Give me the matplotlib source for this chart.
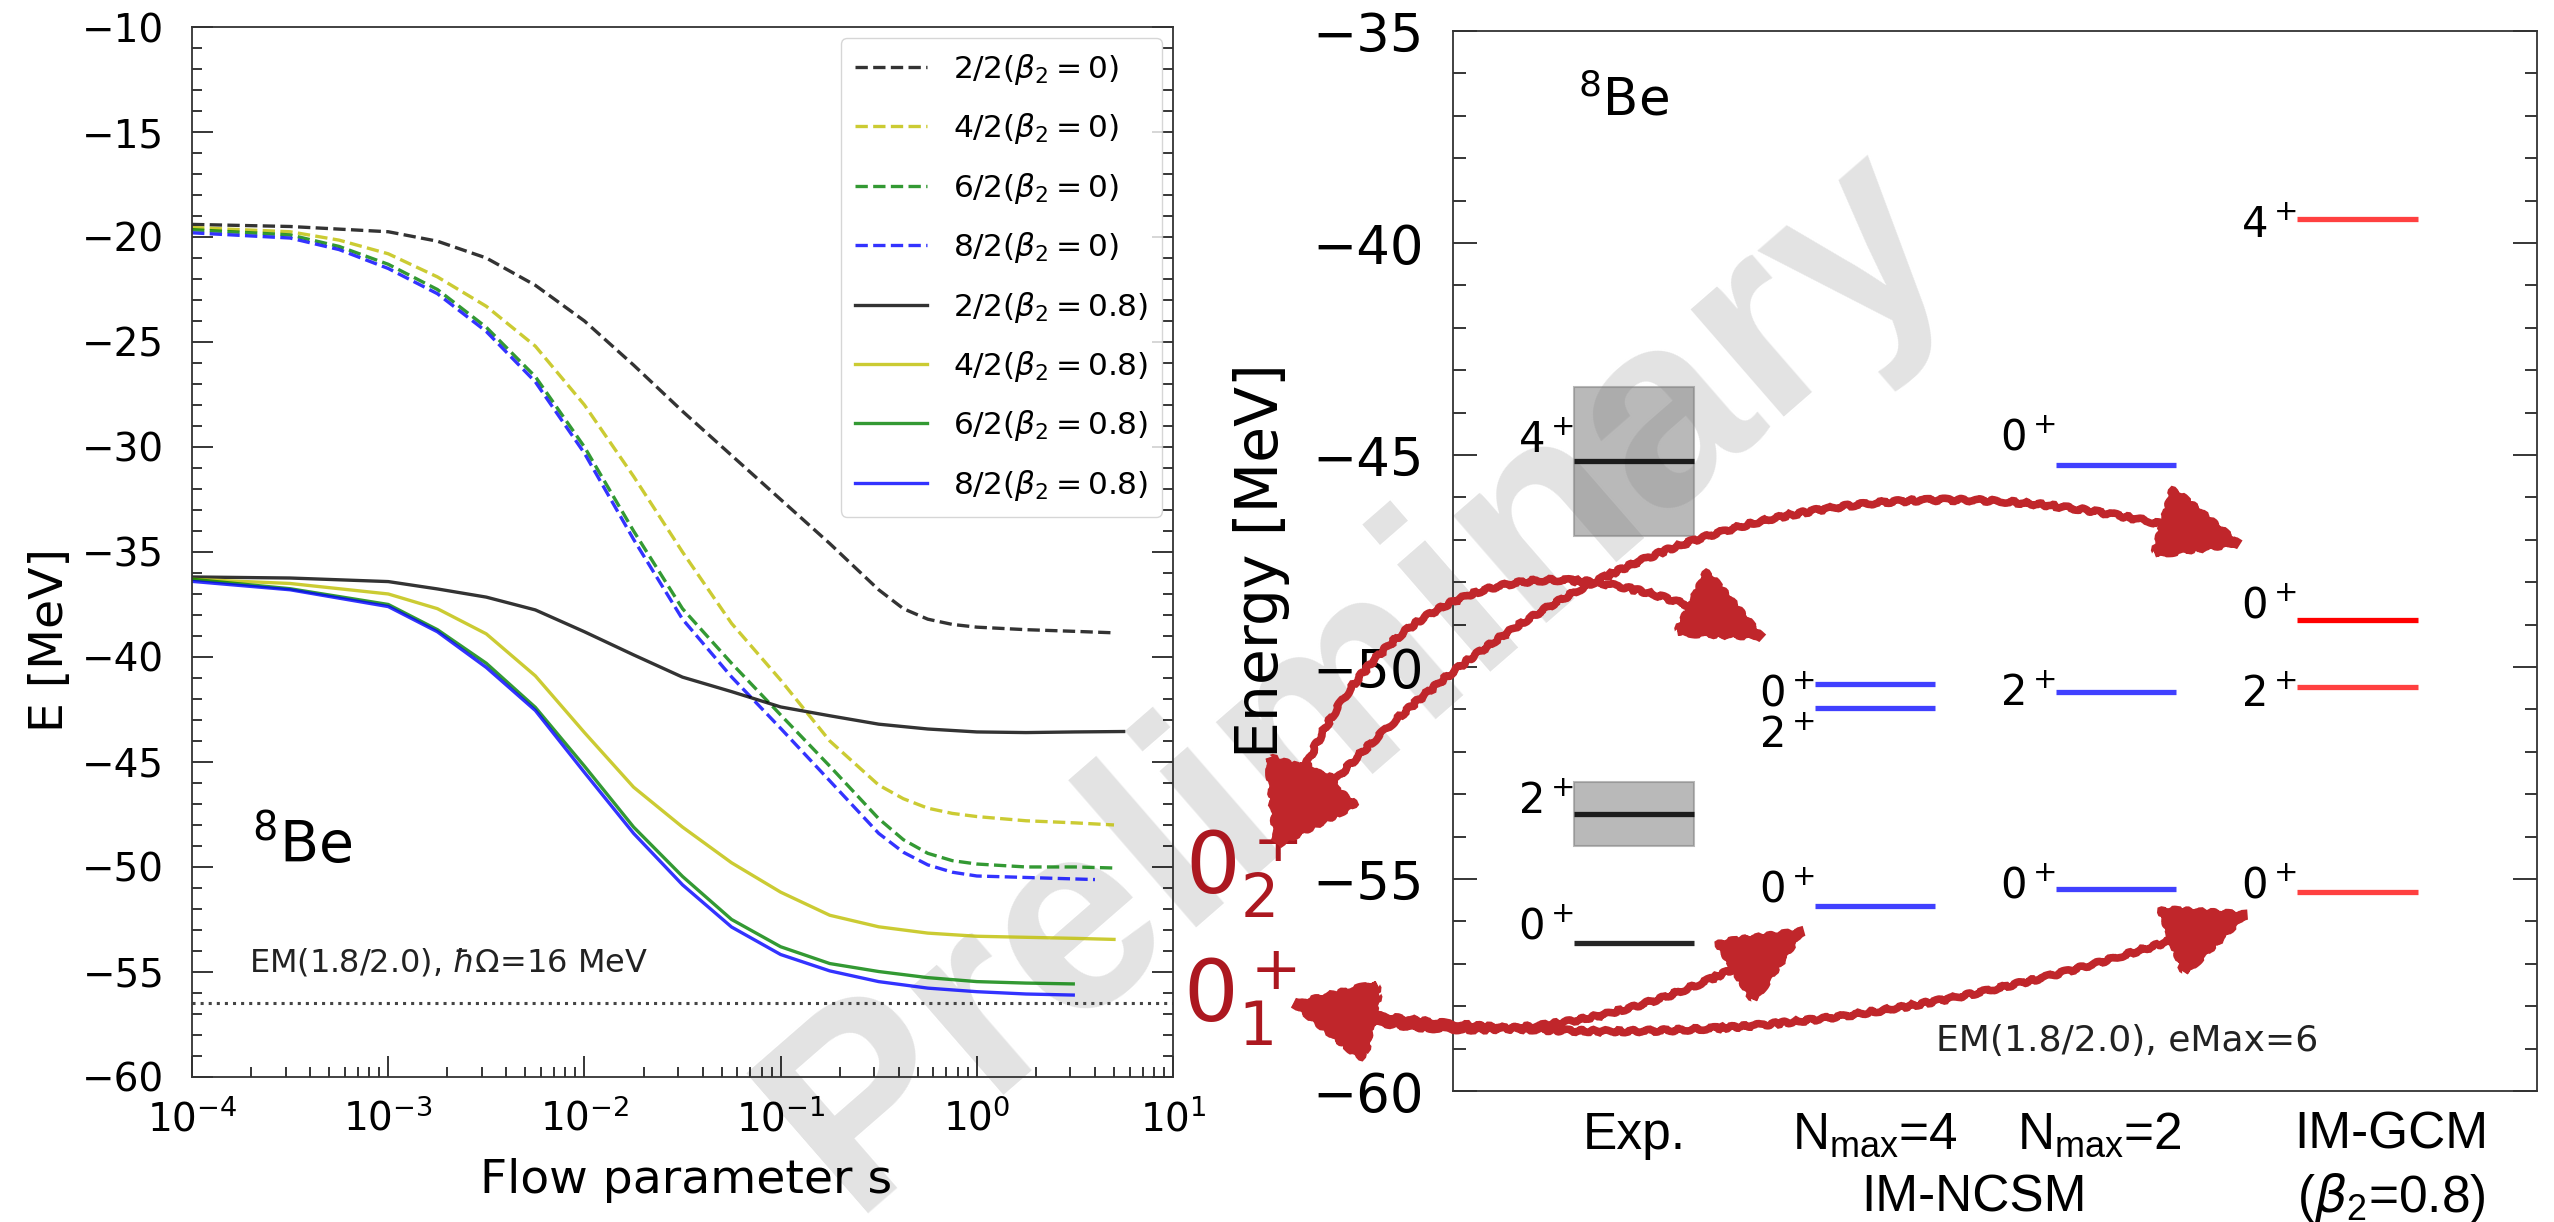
import matplotlib
# no display here
matplotlib.use('Agg')

from matplotlib import pyplot as plt
from matplotlib.patches import Rectangle, FancyArrowPatch, ArrowStyle
from matplotlib.ticker import MultipleLocator, LogLocator, NullFormatter

# ---- left panel: IMSRG flow of the 8Be ground-state energy ----
s_grid = [1e-4, 3.16e-4, 1e-3, 1.78e-3, 3.16e-3, 5.62e-3, 1e-2, 1.78e-2, 3.16e-2,
          5.62e-2, 0.1, 0.178, 0.316, 0.562, 1.0, 1.78, 3.16, 5.0]
s_end31 = s_grid[:16] + [3.1]
s_end56 = s_grid[:17] + [5.6]
s_22_sph = [1e-4, 3.16e-4, 1e-3, 1.78e-3, 3.16e-3, 5.62e-3, 1e-2, 1.78e-2, 3.16e-2, 5.62e-2,
            0.1, 0.178, 0.237, 0.316, 0.422, 0.562, 0.75, 1.0, 1.78, 3.16, 5.0]
s_sph = [1e-4, 3.16e-4, 5.62e-4, 1e-3, 1.78e-3, 3.16e-3, 5.62e-3, 1e-2, 1.78e-2, 3.16e-2,
         5.62e-2, 0.1, 0.178, 0.316, 0.422, 0.562, 0.75, 1.0, 1.78, 3.16, 5.0]
s_82_sph = s_sph[:19] + [4.0]

# spherical reference (beta2 = 0), dashed
e_22_sph = [-19.4, -19.5, -19.75, -20.2, -21.0, -22.3, -24.0, -26.1, -28.3, -30.4,
            -32.5, -34.6, -35.7, -36.8, -37.7, -38.2, -38.45, -38.58, -38.7, -38.78, -38.85]
e_42_sph = [-19.55, -19.75, -20.15, -20.8, -21.9, -23.3, -25.2, -28.0, -31.4, -35.0,
            -38.4, -41.1, -44.0, -46.1, -46.75, -47.2, -47.45, -47.6, -47.8, -47.9, -48.0]
e_62_sph = [-19.65, -19.9, -20.45, -21.3, -22.5, -24.3, -26.65, -30.0, -34.0, -37.7,
            -40.3, -42.76, -45.2, -47.7, -48.7, -49.35, -49.7, -49.86, -50.0, -50.0, -50.05]
e_82_sph = [-19.8, -20.05, -20.6, -21.5, -22.7, -24.5, -26.9, -30.3, -34.4, -38.2,
            -40.95, -43.4, -45.9, -48.4, -49.3, -49.9, -50.25, -50.43, -50.5, -50.6]

# deformed reference (beta2 = 0.8), solid
e_22_def = [-36.19, -36.24, -36.41, -36.76, -37.15, -37.76, -38.8, -39.9, -40.96,
            -41.65, -42.38, -42.8, -43.2, -43.43, -43.57, -43.6, -43.57, -43.55]
e_42_def = [-36.3, -36.5, -37.0, -37.7, -38.9, -40.9, -43.6, -46.2, -48.1,
            -49.8, -51.2, -52.3, -52.85, -53.15, -53.3, -53.35, -53.4, -53.45]
e_62_def = [-36.3, -36.75, -37.5, -38.7, -40.3, -42.4, -45.2, -48.1, -50.45,
            -52.5, -53.8, -54.6, -54.98, -55.27, -55.46, -55.53, -55.57]
e_82_def = [-36.4, -36.8, -37.6, -38.8, -40.5, -42.55, -45.5, -48.4, -50.85,
            -52.86, -54.17, -54.95, -55.46, -55.77, -55.94, -56.05, -56.1]

e_gs_exp = -56.5

# ---- right panel: spectra ----
exp_E = [-56.5, -53.47, -45.15]
exp_width = [0.0, 1.5, 3.5]
exp_J = ['0', '2', '4']
nmax4_E = [-55.64, -50.97, -50.41]
nmax4_J = ['0', '2', '0']
nmax2_E = [-55.24, -50.58, -45.24]
nmax2_J = ['0', '2', '0']
gcm_E = [-55.3, -50.47, -48.9, -39.43]
gcm_J = ['0', '2', '0', '4']

fig = plt.figure(figsize=(25.54, 12.22), dpi=100)

# watermark behind everything
fig.text(0.532, 0.445, 'Preliminary', rotation=41, fontsize=194, fontweight='bold',
         family='Liberation Sans', color='#e3e3e3', ha='center', va='center', zorder=-10)

ax1 = fig.add_axes([0.0752, 0.1187, 0.3841, 0.8592])
ax1.set_facecolor('none')

series = [
    (s_22_sph, e_22_sph, 'k', '--', r'2/2($\beta_2=0$)'),
    (s_sph, e_42_sph, 'y', '--', r'4/2($\beta_2=0$)'),
    (s_sph, e_62_sph, 'g', '--', r'6/2($\beta_2=0$)'),
    (s_82_sph, e_82_sph, 'b', '--', r'8/2($\beta_2=0$)'),
    (s_end56, e_22_def, 'k', '-', r'2/2($\beta_2=0.8$)'),
    (s_grid, e_42_def, 'y', '-', r'4/2($\beta_2=0.8$)'),
    (s_end31, e_62_def, 'g', '-', r'6/2($\beta_2=0.8$)'),
    (s_end31, e_82_def, 'b', '-', r'8/2($\beta_2=0.8$)'),
]
for s, e, c, ls, lab in series:
    ax1.plot(s, e, color=c, ls=ls, lw=2.4, alpha=0.8, label=lab)

ax1.axhline(e_gs_exp, color='#444444', ls=':', lw=2.2)

ax1.set_xscale('log')
ax1.set_xlim(1e-4, 10)
ax1.set_ylim(-60, -10)
ax1.yaxis.set_major_locator(MultipleLocator(5))
ax1.yaxis.set_minor_locator(MultipleLocator(1))
ax1.xaxis.set_minor_locator(LogLocator(base=10, subs=range(2, 10)))
ax1.xaxis.set_minor_formatter(NullFormatter())
ax1.tick_params(which='both', direction='in', left=True, right=True, top=False, bottom=True,
                labelsize=28, width=1.1)
ax1.tick_params(which='major', length=15)
ax1.tick_params(which='minor', length=7.5)
ax1.tick_params(axis='y', pad=20)
ax1.tick_params(axis='x', pad=16)
for sp in ax1.spines.values():
    sp.set_linewidth(1.3)
    sp.set_color('#333333')

leg = ax1.legend(loc='upper right', fontsize=22.5, handlelength=2.3, handletextpad=0.85,
                 labelspacing=0.78, borderaxespad=0.35, borderpad=0.45)

ax1.text(0.061, 0.204, r'$^{8}$Be', transform=ax1.transAxes, fontsize=41, ha='left', va='baseline')
ax1.text(0.058, 0.1, r'EM(1.8/2.0), $\hbar\Omega$=16 MeV', transform=ax1.transAxes,
         fontsize=23, ha='left', va='baseline', color='#222222')

fig.text(686 / 2554, 1 - 1193 / 1222, 'Flow parameter s', fontsize=34, ha='center', va='baseline')
fig.text(51 / 2554, 1 - 640 / 1222, 'E [MeV]', fontsize=34, rotation=90, ha='center', va='center')

# ---- right panel ----
ax2 = fig.add_axes([0.5689, 0.1072, 0.4244, 0.8674])
ax2.set_facecolor('none')
ax2.set_xlim(0.25, 4.745)
ax2.set_ylim(-60, -35)
ax2.set_xticks([])
ax2.yaxis.set_major_locator(MultipleLocator(5))
ax2.yaxis.set_minor_locator(MultipleLocator(1))
ax2.tick_params(which='both', direction='in', left=True, right=True, labelsize=38, width=1.1, pad=21)
ax2.tick_params(which='major', length=17.5)
ax2.tick_params(which='minor', length=9)
for sp in ax2.spines.values():
    sp.set_linewidth(1.3)
    sp.set_color('#333333')

half = 0.25
lab_fs = 30

def draw_levels(xc, energies, spins, color, offsets, alphas):
    for E, J, off, a in zip(energies, spins, offsets, alphas):
        ax2.hlines(E, xc - half, xc + half, color=color, lw=3.8, alpha=a)
        ax2.annotate('$%s^+$' % J, xy=(xc - half, E), xytext=(0, off), textcoords='offset points',
                     ha='right', va='baseline', fontsize=lab_fs)

# experiment with resonance widths
for E, w in zip(exp_E, exp_width):
    if w > 0:
        ax2.add_patch(Rectangle((1 - half, E - w / 2), 2 * half, w, facecolor='gray',
                                edgecolor='gray', alpha=0.55, lw=1.5))
draw_levels(1, exp_E, exp_J, 'k', [3, 1, 7], [0.85, 0.85, 0.85])
draw_levels(2, nmax4_E, nmax4_J, 'b', [3, -28, -15], [0.75, 0.75, 0.75])
draw_levels(3, nmax2_E, nmax2_J, 'b', [-6, -10, 11], [0.75, 0.75, 0.75])
draw_levels(4, gcm_E, gcm_J, 'r', [-4, -14, 2, -13], [0.75, 0.75, 1.0, 0.75])

ax2.text(0.77, -37.0, r'$^{8}$Be', fontsize=37, ha='left', va='baseline')
ax2.text(0.446, 0.0377, 'EM(1.8/2.0), eMax=6', transform=ax2.transAxes, fontsize=26,
         ha='left', va='baseline', color='#222222')
fig.text(1261 / 2554, 1 - 561 / 1222, 'Energy [MeV]', fontsize=42, rotation=90,
         ha='center', va='center')

# method labels below the axis
bt = ax2.get_xaxis_transform()
lab_kw = dict(fontsize=37, family='Liberation Sans', ha='center', va='baseline', transform=bt,
              clip_on=False)
ax2.text(1.0, -0.0547, 'Exp.', **lab_kw)
ax2.text(2.0, -0.0547, r'N$_\mathregular{max}$=4', **lab_kw)
ax2.text(2.93, -0.0547, r'N$_\mathregular{max}$=2', **lab_kw)
ax2.text(4.14, -0.0547, 'IM-GCM', **lab_kw)
ax2.text(2.41, -0.114, 'IM-NCSM', **lab_kw)
ax2.text(4.14, -0.114, r'($\beta_\mathregular{2}$=0.8)', **lab_kw)

# red state labels and hand-drawn style arrows
red = '#ac1820'
ax2.text(-0.863, -55.35, r'$0_2^+$', color=red, fontsize=62, ha='left', va='baseline', clip_on=False)
ax2.text(-0.87, -58.37, r'$0_1^+$', color=red, fontsize=62, ha='left', va='baseline', clip_on=False)

astyle = ArrowStyle('<|-|>', head_length=0.9, head_width=0.4)
arrows = [((-0.495, -54.34), (1.567, -49.39), -0.58),
          ((-0.495, -54.34), (3.547, -47.15), -0.33),
          ((-0.445, -57.9), (1.733, -56.1), 0.22),
          ((-0.445, -57.9), (3.576, -55.75), 0.136)]
for a, b, rad in arrows:
    arr = FancyArrowPatch(a, b, arrowstyle=astyle, mutation_scale=60,
                          connectionstyle='arc3,rad=%g' % rad, color='#c0262b', lw=5.5,
                          joinstyle='miter', capstyle='butt',
                          transform=ax2.transData, clip_on=False, zorder=10)
    arr.set_sketch_params(scale=1.5, length=20, randomness=4)
    ax2.add_patch(arr)

plt.savefig('out.png', dpi=100)
